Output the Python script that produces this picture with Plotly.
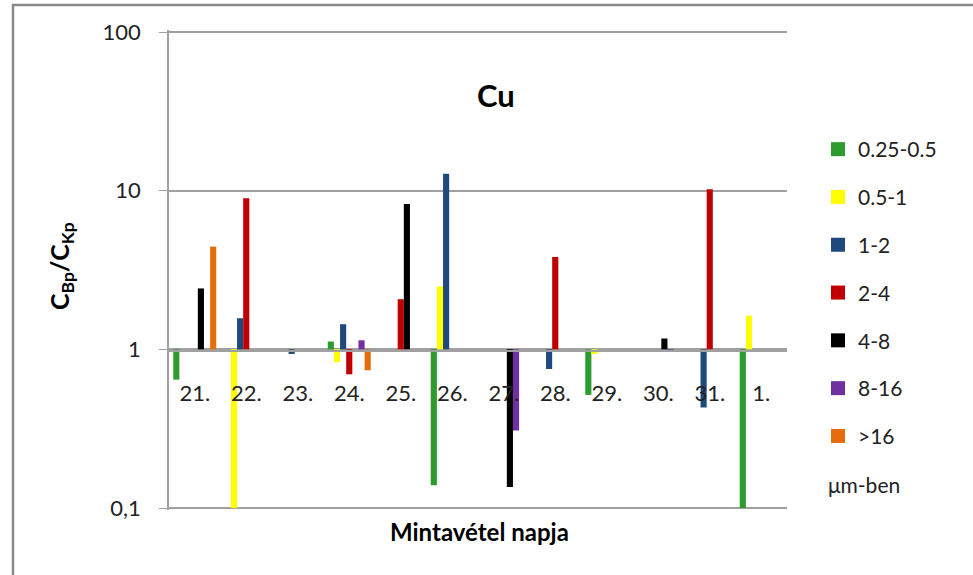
import plotly.graph_objects as go

categories = ["21.", "22.", "23.", "24.", "25.", "26.", "27.", "28.", "29.", "30.", "31.", "1."]
series_names = ["0.25-0.5", "0.5-1", "1-2", "2-4", "4-8", "8-16", ">16"]
s_025_05 = [0.644, None, None, 1.12, None, 0.139, None, None, 0.516, None, None, 0.1]
s_05_1 = [None, 0.1, None, 0.83, None, 2.49, None, None, 0.935, None, None, 1.63]
s_1_2 = [None, 1.57, 0.935, 1.44, None, 12.8, None, 0.752, None, None, 0.43, None]
s_2_4 = [None, 8.95, None, 0.696, 2.07, None, None, 3.82, None, None, 10.2, None]
s_4_8 = [2.42, None, None, None, 8.24, None, 0.1355, None, None, 1.17, None, None]
s_8_16 = [None, None, None, 1.14, None, None, 0.308, None, None, 0.97, None, None]
s_gt16 = [4.44, None, None, 0.738, None, None, None, None, None, None, None, None]
series_values = [s_025_05, s_05_1, s_1_2, s_2_4, s_4_8, s_8_16, s_gt16]
colors = ["#2E9B2E", "#FFFF00", "#1F497D", "#C00000", "#000000", "#7030A0", "#E46C0A"]
ytick_vals = [0.1, 1, 10, 100]
ytick_text = ["0,1", "1", "10", "100"]
baseline = 1

FONT = "Lato"
# plot area geometry (pixels)
L, R, T, B = 169, 787, 30, 510
W, H = 973, 575


def px(x):
    return (x - L) / (R - L)


def py(y):
    return (B - y) / (B - T)


fig = go.Figure()
for name, vals, col in zip(series_names, series_values, colors):
    fig.add_trace(go.Bar(
        x=categories,
        y=[(v - baseline) if v is not None else None for v in vals],
        base=baseline,
        name=name,
        legendgroup=name,
        showlegend=False,
        marker=dict(color=col, line=dict(width=0)),
    ))
# legend entries with square swatches
for name, col in zip(series_names, colors):
    fig.add_trace(go.Scatter(
        x=[None], y=[None], mode="markers", name=name, legendgroup=name,
        marker=dict(symbol="square", size=14, color=col, line=dict(width=0)),
        showlegend=True, hoverinfo="skip",
    ))

# outer chart border
fig.add_shape(type="rect", xref="paper", yref="paper",
              x0=px(13), x1=px(985), y0=py(590), y1=py(5),
              line=dict(color="#8A8A8A", width=2.5), fillcolor="rgba(0,0,0,0)", layer="below")

fig.add_annotation(text="<b>Cu</b>", xref="paper", yref="paper",
                   x=px(496), y=py(95), xanchor="center", yanchor="middle", showarrow=False,
                   font=dict(family=FONT, size=31, color="#000"))
fig.add_annotation(text="<b>Mintavétel napja</b>", xref="paper", yref="paper",
                   x=px(479), y=py(531), xanchor="center", yanchor="middle", showarrow=False,
                   font=dict(family=FONT, size=24, color="#000"))
fig.add_annotation(text="μm-ben", xref="paper", yref="paper", xanchor="left", yanchor="middle",
                   x=px(826), y=py(484), showarrow=False,
                   font=dict(family=FONT, size=21, color="#222"))
fig.add_annotation(text="<b>C<sub>Bp</sub>/C<sub>Kp</sub></b>", xref="paper", yref="paper",
                   x=px(61), y=py(266), xanchor="center", yanchor="middle", textangle=-90,
                   showarrow=False, font=dict(family=FONT, size=25, color="#000"))

fig.update_layout(
    width=W, height=H,
    margin=dict(l=L, r=W - R, t=T, b=H - B, autoexpand=False),
    paper_bgcolor="white", plot_bgcolor="white",
    barmode="group", bargap=0.165, bargroupgap=0,
    font=dict(family=FONT, size=20, color="#222"),
    showlegend=True,
    legend=dict(x=px(818), xanchor="left", y=py(129), yanchor="top",
                tracegroupgap=17.5, font=dict(family=FONT, size=21, color="#222"),
                bgcolor="rgba(0,0,0,0)"),
    xaxis=dict(type="category", anchor="free", position=py(351), automargin=False,
               showline=True, linecolor="#A0A0A0", linewidth=1.5,
               showgrid=False, ticks="", ticklabelstandoff=23,
               tickfont=dict(family=FONT, size=22, color="#222")),
    yaxis=dict(type="log", range=[-1.0126, 2.0126], tickvals=ytick_vals, ticktext=ytick_text,
               automargin=False,
               showline=True, linecolor="#A0A0A0", linewidth=1.5,
               ticks="outside", ticklen=8, tickcolor="#A0A0A0",
               showgrid=True, gridcolor="#A0A0A0", gridwidth=1.5,
               zeroline=False, ticklabelstandoff=14,
               tickfont=dict(family=FONT, size=22, color="#222")),
)

fig.write_html("out.html", config={"displayModeBar": False},
               post_script="document.body.style.margin='0';")
